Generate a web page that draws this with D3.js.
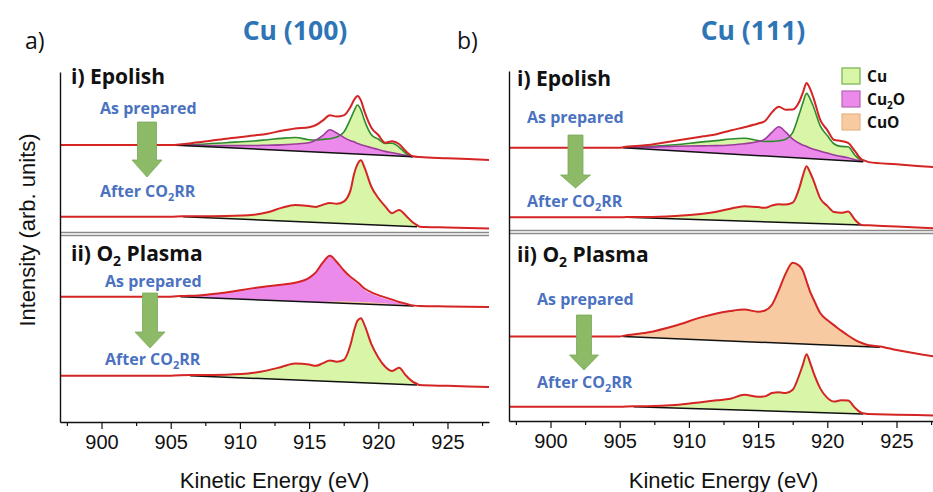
<!DOCTYPE html>
<html>
<head>
<meta charset="utf-8">
<script src="https://cdn.jsdelivr.net/npm/d3@7"></script>
<style>
  body { margin: 0; background: #fff; }
  svg { display: block; }
</style>
</head>
<body>
<div class="canvas"></div>
<script>
// ---- data ------------------------------------------------------------
// kinetic energy grid (eV), shared by every spectrum
const energy = [897, 900, 903, 905, 907, 909, 911, 912, 913, 914, 915, 915.5, 916, 916.5,
  917, 917.5, 918, 918.25, 918.5, 918.75, 919, 919.5, 920, 920.5, 921, 921.5, 922, 922.5,
  923, 925, 928];
const xMajorTicks = [900, 905, 910, 915, 920, 925];
const xMinorTicks = [897.5, 902.5, 907.5, 912.5, 917.5, 922.5, 927.5];
const phases = ['Cu', 'Cu2O', 'CuO'];

// background: [start eV, end eV, level before start, level at end, level at 928 eV]
// all other arrays: intensity above the background (arb. units)

// Cu(100), Epolish, as prepared
const c100EpPrepBase = [905, 922.5, 277, 265.3, 262];
const c100EpPrepTotal = [0, 0, 0, 0, 4, 9, 13.5, 16, 19.5, 22.5, 24.5, 27, 32, 37.5, 36.5, 38, 47, 54, 58, 53.5, 43, 27, 20, 12.5, 14.5, 12, 5, 0.5, 0, 0, 0];
const c100EpPrepCu = [0, 0, 0, 0, 2, 5, 8, 10, 12, 13.5, 12, 12, 13, 14, 16, 21, 35, 43, 49, 44, 34, 20, 16, 12, 12.5, 9, 3, 0, 0, 0, 0];
const c100EpPrepCu2O = [0, 0, 0, 0, 1, 2, 3.5, 4.5, 5.5, 7, 9, 12, 17, 23, 20, 16, 13, 12, 10.5, 9.5, 8.5, 7, 5.5, 4, 3, 2, 1, 0, 0, 0, 0];
// Cu(100), Epolish, after CO2RR
const c100EpAfterBase = [905.9, 922.8, 205.3, 195.3, 193.5];
const c100EpAfterTotal = [0, 0, 0, 0, 1, 2.5, 5, 8, 13, 16.5, 16, 15.5, 18, 20, 19.5, 22, 34, 50, 60, 64, 57, 38, 27, 19, 12.5, 16, 10.5, 4, 0, 0, 0];
// Cu(100), O2 plasma, as prepared
const c100PlPrepBase = [905.7, 922.55, 125.3, 116, 115];
const c100PlPrepTotal = [0, 0, 0, 0, 2, 6, 11.5, 14, 16, 18.5, 24, 30, 40, 47, 41, 33, 26.5, 24, 21.5, 18.5, 15.5, 12, 9.5, 7.5, 5.5, 3.5, 2, 0.5, 0, 0, 0];
const c100PlPrepCu2O = [0, 0, 0, 0, 2, 6, 11.5, 14, 16, 18.5, 24, 30, 39.5, 46, 40, 32, 25, 22.5, 20, 17, 14, 10.5, 8, 6, 4.5, 2.5, 1.5, 0.5, 0, 0, 0];
const c100PlPrepCuO = [0, 0, 0, 0, 0, 0, 0, 0, 0, 0, 0, 0, 0.5, 1, 1.5, 2, 2, 2, 2, 2, 2, 2, 1.5, 1.5, 1, 1, 0.5, 0, 0, 0, 0];
// Cu(100), O2 plasma, after CO2RR
const c100PlAfterBase = [906.4, 922.8, 46.3, 37, 35];
const c100PlAfterTotal = [0, 0, 0, 0, 1, 2.5, 5.5, 8.5, 12.5, 16.5, 16, 15, 18, 21, 20, 22, 38, 52, 62, 64.5, 58, 39, 26, 17, 13, 16.5, 9, 3, 0, 0, 0];

// Cu(111), Epolish, as prepared
const c111EpPrepBase = [905.25, 922.6, 273.3, 259.3, 253.5];
const c111EpPrepTotal = [0, 0, 0, 0, 4, 10, 16, 19, 23.5, 27.5, 32, 35, 44, 50, 47.5, 48, 57, 66, 75.5, 70, 61, 39, 29.5, 20, 19.5, 18, 10, 2, 0, 0, 0];
const c111EpPrepCu = [0, 0, 0, 0, 2.5, 6, 10.5, 12.5, 15, 16.5, 15, 14.5, 15, 16, 18, 25, 45, 56, 65, 60, 52, 33, 24, 16, 14, 14, 6, 1, 0, 0, 0];
const c111EpPrepCu2O = [0, 0, 0, 0, 2, 4.5, 6.5, 7.5, 9, 11, 14, 17, 24, 30, 25, 18.5, 14.5, 13, 12, 10.5, 9.5, 8, 6.5, 5, 4, 3, 1.5, 0.5, 0, 0, 0];
// Cu(111), Epolish, after CO2RR
const c111EpAfterBase = [905.5, 922.5, 203.7, 196, 192.5];
const c111EpAfterTotal = [0, 0, 0, 0, 1, 3, 6, 8.5, 12, 15, 14.5, 14, 16.5, 18, 18, 20, 36, 48, 57, 51, 43, 25, 18, 12, 11.5, 13, 5, 0, 0, 0, 0];
// Cu(111), O2 plasma, as prepared
const c111PlPrepBase = [905.25, 923.8, 84.5, 73.7, 64];
const c111PlPrepTotal = [0, 0, 0, 0, 5, 13, 23, 27, 30, 32, 30.5, 32, 38, 53, 70, 81, 78, 73, 63, 53, 45.5, 31.5, 25, 20, 15, 10.5, 6.5, 3.5, 1.5, 0, 0];
// Cu(111), O2 plasma, after CO2RR
const c111PlAfterBase = [906, 922.6, 14.3, 7, 5.5];
const c111PlAfterTotal = [0, 0, 0, 0, 1, 3, 7, 9, 11, 15.5, 14, 14.5, 18, 19, 18.5, 22, 38, 48, 58, 50, 40, 24, 15, 11.5, 13, 13, 6, 1, 0, 0, 0];

// ---- styles & layout -------------------------------------------------
const phaseStyle = {
  Cu:   { fill: '#d9f5a8', line: '#2e8b2e', box: '#76b04a', label: ['Cu'] },
  Cu2O: { fill: '#ec8aec', line: '#9a3d9a', box: '#b364b3', label: ['Cu', '2', 'O'] },
  CuO:  { fill: '#f8caa2', line: '#e39a5e', box: '#e8b487', label: ['CuO'] }
};
const redLine = '#d42424';
const blueText = '#2e75b6';
const noteBlue = '#4a72c0';
const arrowGreen = '#8cba66';
const fontBold = '"Open Sans", "Noto Sans", sans-serif';
const fontAxis = '"Liberation Sans", Arial, sans-serif';

const width = 933, height = 492;
const xDomain = [897, 928];
const panelW = 429;

const panels = [
  { left: 60, top: 72, bottom: 422, title: 'Cu (100)', titleX: 295, tag: 'a)', tagX: 25,
    spectra: [
      { base: c100EpPrepBase, total: c100EpPrepTotal, parts: [['Cu', c100EpPrepCu], ['Cu2O', c100EpPrepCu2O]], outline: true },
      { base: c100EpAfterBase, total: c100EpAfterTotal, parts: [['Cu', c100EpAfterTotal]] },
      { base: c100PlPrepBase, total: c100PlPrepTotal, parts: [['Cu2O', c100PlPrepCu2O], ['CuO', c100PlPrepCuO]] },
      { base: c100PlAfterBase, total: c100PlAfterTotal, parts: [['Cu', c100PlAfterTotal]] }
    ],
    notes: [
      { prep: [100, 114], after: [100, 197], arrow: { cx: 147, top: 122, shaft: 19, headY: 160, headW: 30, tip: 177 } },
      { prep: [105, 287], after: [105, 365], arrow: { cx: 150, top: 293, shaft: 15, headY: 332, headW: 30, tip: 348 } }
    ],
    sections: [[71, 84], [71, 261]]
  },
  { left: 509, top: 71, bottom: 421, title: 'Cu (111)', titleX: 753, tag: 'b)', tagX: 457,
    spectra: [
      { base: c111EpPrepBase, total: c111EpPrepTotal, parts: [['Cu', c111EpPrepCu], ['Cu2O', c111EpPrepCu2O]], outline: true },
      { base: c111EpAfterBase, total: c111EpAfterTotal, parts: [['Cu', c111EpAfterTotal]] },
      { base: c111PlPrepBase, total: c111PlPrepTotal, parts: [['CuO', c111PlPrepTotal]] },
      { base: c111PlAfterBase, total: c111PlAfterTotal, parts: [['Cu', c111PlAfterTotal]] }
    ],
    notes: [
      { prep: [527, 123], after: [527, 207], arrow: { cx: 575.5, top: 135, shaft: 15, headY: 175, headW: 30, tip: 188 } },
      { prep: [537, 305], after: [537, 388], arrow: { cx: 584, top: 315, shaft: 15, headY: 355, headW: 29, tip: 370 } }
    ],
    sections: [[517, 86], [517, 262]],
    legend: true
  }
];

const svg = d3.select('.canvas').append('svg')
  .attr('width', width)
  .attr('height', height);

// background level under a spectrum at energy e
const baseAt = function(b, e) {
  const [e0, e1, b0, b1, b2] = b;
  if (e <= e0) return b0;
  if (e <= e1) return b0 + (b1 - b0) * (e - e0) / (e1 - e0);
  return b1 + (b2 - b1) * (e - e1) / (xDomain[1] - e1);
};

panels.forEach(p => {
  const h = p.bottom - p.top;
  const x = d3.scaleLinear().domain(xDomain).range([0, panelW]);
  const y = d3.scaleLinear().domain([0, h]).range([h, 0]);

  const graph = svg.append('g')
    .attr('transform', `translate(${p.left},${p.top})`);

  const line = d3.line().x(d => x(d.e)).y(d => y(d.v)).curve(d3.curveMonotoneX);
  const area = d3.area().x(d => x(d.e)).y0(d => y(d.b)).y1(d => y(d.v)).curve(d3.curveMonotoneX);

  p.spectra.forEach(s => {
    const [e0, e1] = s.base;
    const grid = Array.from(new Set(energy.concat([e0, e1]))).sort((a, b) => a - b);
    const inner = grid.filter(e => e >= e0 && e <= e1);

    // component fills
    s.parts.forEach(([name, vals]) => {
      const at = d3.scaleLinear().domain(energy).range(vals);
      const pts = inner.map(e => ({ e, b: baseAt(s.base, e), v: baseAt(s.base, e) + at(e) }));
      graph.append('path')
        .datum(pts)
        .attr('fill', phaseStyle[name].fill)
        .attr('d', area);
    });
    if (s.outline) {
      s.parts.forEach(([name, vals]) => {
        const at = d3.scaleLinear().domain(energy).range(vals);
        const pts = inner.map(e => ({ e, v: baseAt(s.base, e) + at(e) }));
        graph.append('path')
          .datum(pts)
          .attr('fill', 'none')
          .attr('stroke', phaseStyle[name].line)
          .attr('stroke-width', 1.6)
          .attr('d', line);
      });
    }

    // linear background
    graph.append('line')
      .attr('x1', x(e0)).attr('y1', y(s.base[2]))
      .attr('x2', x(e1)).attr('y2', y(s.base[3]))
      .attr('stroke', '#111')
      .attr('stroke-width', 1.5);

    // measured spectrum
    const tot = d3.scaleLinear().domain(energy).range(s.total);
    graph.append('path')
      .datum(grid.map(e => ({ e, v: baseAt(s.base, e) + tot(e) })))
      .attr('fill', 'none')
      .attr('stroke', redLine)
      .attr('stroke-width', 2)
      .attr('d', line);
  });

  // double separator between the two samples
  [186.5, 189.5].forEach(v => {
    graph.append('line')
      .attr('x1', 1).attr('x2', panelW)
      .attr('y1', y(v - (p.bottom - 422))).attr('y2', y(v - (p.bottom - 422)))
      .attr('stroke', '#8a8a8a')
      .attr('stroke-width', 1.3);
  });

  // axes
  const xAxisGroup = graph.append('g')
    .attr('transform', `translate(0,${h})`)
    .call(d3.axisBottom(x).tickValues(xMajorTicks).tickSize(7).tickSizeOuter(0).tickPadding(6));
  const minorGroup = graph.append('g')
    .attr('transform', `translate(0,${h})`)
    .call(d3.axisBottom(x).tickValues(xMinorTicks).tickSize(4).tickFormat(''));
  minorGroup.select('.domain').remove();
  [xAxisGroup, minorGroup].forEach(g => {
    g.selectAll('line').attr('stroke', '#111').attr('stroke-width', 1.2);
  });
  xAxisGroup.select('.domain').attr('stroke', '#111').attr('stroke-width', 1.4);
  xAxisGroup.selectAll('text')
    .attr('font-family', fontAxis)
    .attr('font-size', 20)
    .attr('fill', '#111');

  graph.append('g')
    .call(d3.axisLeft(y).tickValues([]).tickSizeOuter(0))
    .select('.domain').attr('stroke', '#111').attr('stroke-width', 1.4);

  // x axis title
  svg.append('text')
    .attr('x', p.left + panelW / 2)
    .attr('y', 488)
    .attr('text-anchor', 'middle')
    .attr('font-family', fontAxis)
    .attr('font-size', 22)
    .attr('fill', '#111')
    .text('Kinetic Energy (eV)');

  // panel tag and title
  svg.append('text')
    .attr('x', p.tagX).attr('y', 49)
    .attr('font-family', fontBold)
    .attr('font-size', 23)
    .attr('fill', '#111')
    .text(p.tag);
  svg.append('text')
    .attr('x', p.titleX).attr('y', 40)
    .attr('text-anchor', 'middle')
    .attr('font-family', fontBold)
    .attr('font-weight', 700)
    .attr('font-size', 26.5)
    .attr('fill', blueText)
    .text(p.title);

  // section labels
  svg.append('text')
    .attr('x', p.sections[0][0]).attr('y', p.sections[0][1])
    .attr('font-family', fontBold).attr('font-weight', 700)
    .attr('font-size', 21).attr('fill', '#111')
    .text('i) Epolish');
  const sec2 = svg.append('text')
    .attr('x', p.sections[1][0]).attr('y', p.sections[1][1])
    .attr('font-family', fontBold).attr('font-weight', 700)
    .attr('font-size', 21).attr('fill', '#111');
  sec2.append('tspan').text('ii) O');
  sec2.append('tspan').attr('dy', 5).attr('font-size', 14).text('2');
  sec2.append('tspan').attr('dy', -5).text(' Plasma');

  // "As prepared" -> "After CO2RR" notes with arrows
  p.notes.forEach(n => {
    svg.append('text')
      .attr('x', n.prep[0]).attr('y', n.prep[1])
      .attr('font-family', fontBold).attr('font-weight', 700)
      .attr('font-size', 16).attr('fill', noteBlue)
      .text('As prepared');
    const t = svg.append('text')
      .attr('x', n.after[0]).attr('y', n.after[1])
      .attr('font-family', fontBold).attr('font-weight', 700)
      .attr('font-size', 16).attr('fill', noteBlue);
    t.append('tspan').text('After CO');
    t.append('tspan').attr('dy', 4).attr('font-size', 11).text('2');
    t.append('tspan').attr('dy', -4).text('RR');

    const a = n.arrow;
    const pts = [
      [a.cx - a.shaft / 2, a.top], [a.cx + a.shaft / 2, a.top],
      [a.cx + a.shaft / 2, a.headY], [a.cx + a.headW / 2, a.headY],
      [a.cx, a.tip],
      [a.cx - a.headW / 2, a.headY], [a.cx - a.shaft / 2, a.headY]
    ];
    svg.append('polygon')
      .attr('points', pts.map(d => d.join(',')).join(' '))
      .attr('fill', arrowGreen)
      .attr('stroke', '#7aa85a')
      .attr('stroke-width', 0.8);
  });

  // legend
  if (p.legend) {
    const lg = svg.append('g').attr('transform', 'translate(842,68)');
    phases.forEach((name, i) => {
      const row = lg.append('g').attr('transform', `translate(0,${i * 23})`);
      row.append('rect')
        .attr('width', 18).attr('height', 16)
        .attr('fill', phaseStyle[name].fill)
        .attr('stroke', phaseStyle[name].box)
        .attr('stroke-width', 1.2);
      const txt = row.append('text')
        .attr('x', 25).attr('y', 14)
        .attr('font-family', fontBold).attr('font-weight', 700)
        .attr('font-size', 15.5).attr('fill', '#111');
      const parts = phaseStyle[name].label;
      txt.append('tspan').text(parts[0]);
      if (parts.length > 1) {
        txt.append('tspan').attr('dy', 4).attr('font-size', 10).text(parts[1]);
        txt.append('tspan').attr('dy', -4).text(parts[2]);
      }
    });
  }
});

// shared y axis title
svg.append('text')
  .attr('transform', 'translate(27,230) rotate(-90)')
  .attr('text-anchor', 'middle')
  .attr('dy', '0.35em')
  .attr('font-family', fontAxis)
  .attr('font-size', 22)
  .attr('fill', '#111')
  .text('Intensity (arb. units)');
</script>
</body>
</html>
